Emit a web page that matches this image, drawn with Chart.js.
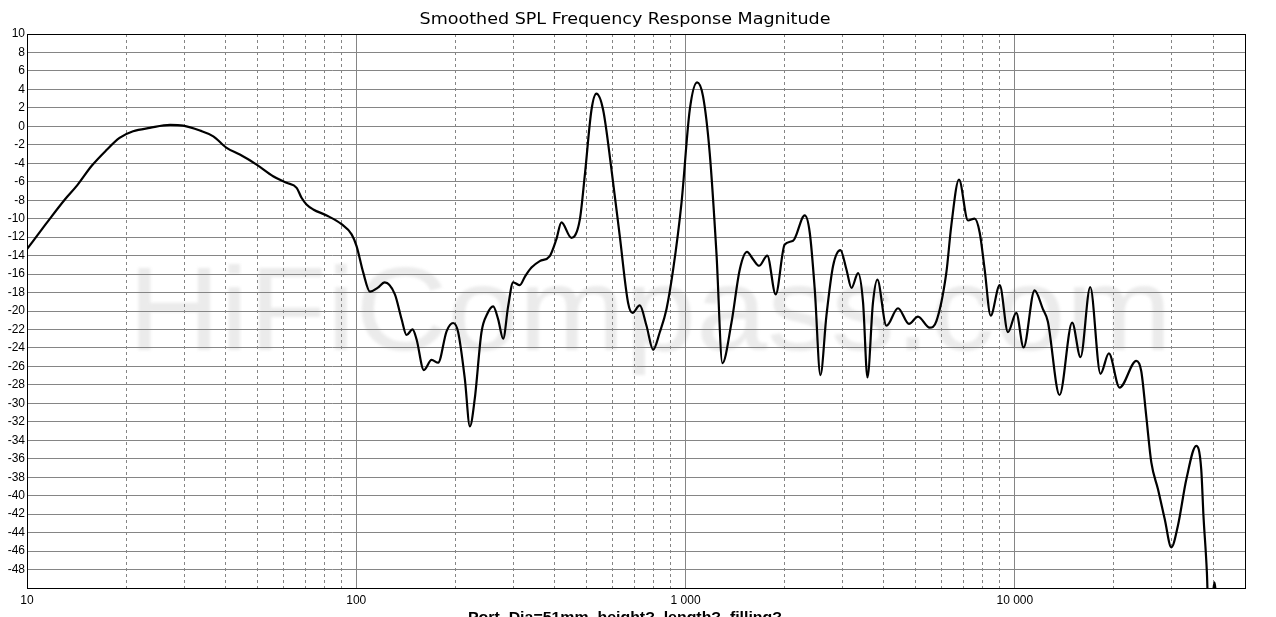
<!DOCTYPE html>
<html>
<head>
<meta charset="utf-8">
<title>Smoothed SPL Frequency Response Magnitude</title>
<script src="https://cdn.jsdelivr.net/npm/chart.js@4.4.1/dist/chart.umd.min.js"></script>
<style>
  html, body { margin: 0; padding: 0; background: #fff; overflow: hidden; }
  #wrap { width: 1276px; height: 617px; }
</style>
</head>
<body>
<div id="wrap"><canvas id="myChart" width="1276" height="617"></canvas></div>
<script>
// frequency (Hz) and level (dB)
var freqs = [
    10, 11.4, 13.05, 14.2, 15.7, 17.4, 19.1, 21.0, 23.6, 27.2,
    29.8, 33.5, 36.8, 40.4, 44.3, 49.8, 55.9, 61.4, 65.9, 68.2,
    70.6, 74, 81.3, 90.2, 96.8, 100.2, 105, 110, 116, 122,
    131, 137.3, 142.1, 148.2, 152.4, 160.4, 169.3, 177.3, 188, 196.9,
    203.9, 213.7, 221.3, 229, 240, 250, 260.4, 269.7, 279.3, 289.2,
    299.5, 313.8, 325, 340.4, 360.8, 387, 405, 419.8, 450, 477.4,
    494, 518, 536, 561.8, 595.7, 631.3, 669, 690, 726, 761,
    797, 835, 875, 917, 972, 1030, 1084, 1130, 1184, 1241,
    1294, 1378, 1461, 1537, 1603, 1672, 1771, 1878, 2000, 2121,
    2301, 2383, 2468, 2568, 2678, 2806, 2953, 3080, 3191, 3342,
    3460, 3568, 3708, 3823, 4074, 4418, 4770, 5080, 5512, 5778,
    6194, 6410, 6766, 7206, 7550, 7820, 8097, 8445, 8995, 9530,
    10100, 10630, 11480, 12170, 12590, 13670, 14930, 15830, 16940, 18200,
    19300, 20800, 23380, 24200, 25060, 25970, 27210, 28510, 29870, 31300,
    33190, 35560, 36810, 37400, 38300, 39000, 40400, 41500
]
var spl = [
    -13.3, -10.6, -7.9, -6.4, -4.3, -2.6, -1.25, -0.54, -0.17, 0.15,
    0.07, -0.46, -1.08, -2.34, -3.06, -4.14, -5.4, -6.12, -6.66, -7.74,
    -8.46, -9.0, -9.65, -10.6, -11.7, -12.97, -15.85, -17.9, -17.5, -16.9,
    -18.2, -20.9, -22.6, -22.0, -23.06, -26.4, -25.3, -25.6, -22.2, -21.3,
    -22.3, -27.4, -32.5, -29.5, -22.3, -20.3, -19.5, -20.9, -23.0, -19.5,
    -16.9, -17.2, -16.3, -15.3, -14.6, -14.05, -12.25, -10.4, -12.07, -10.1,
    -5.4, 1.8, 3.54, 1.8, -4.68, -11.9, -19.1, -20.2, -19.4, -21.6,
    -24.2, -22.3, -19.8, -15.5, -8.28, 1.8, 4.76, 3.24, -2.9, -13.7,
    -25.65, -21.3, -15.5, -13.6, -14.4, -15.1, -14.0, -18.2, -12.8, -12.4,
    -9.65, -11.5, -17.65, -26.95, -20.5, -15.1, -13.4, -15.5, -17.5, -15.9,
    -19.1, -27.2, -19.1, -16.6, -21.6, -19.7, -21.4, -20.6, -21.8, -21.1,
    -15.85, -10.8, -5.76, -10.2, -10.0, -11.5, -15.5, -20.5, -17.2, -22.3,
    -20.2, -23.95, -17.76, -19.8, -21.1, -29.1, -21.25, -25.0, -17.4, -26.8,
    -24.6, -28.3, -25.4, -26.5, -31.35, -36.4, -39.3, -42.5, -45.6, -43.2,
    -38.2, -34.6, -37.1, -42.2, -48.3, -56, -49.4, -56
]

var xTicks = [
    10, 20, 30, 40, 50, 60, 70, 80, 90,
    100, 200, 300, 400, 500, 600, 700, 800, 900,
    1000, 2000, 3000, 4000, 5000, 6000, 7000, 8000, 9000,
    10000, 20000, 30000, 40000
]
var xTickLabels = { 10: '10', 100: '100', 1000: '1 000', 10000: '10 000' }
var xMin = 10
var xMax = 50000
var yMin = -50
var yMax = 10
var yStep = 2

var chartTitle = 'Smoothed SPL Frequency Response Magnitude'
var caption = 'Port_Dia=51mm, height?, length?, filling?'
var watermark = 'HiFiCompass.com'

function isDecade(v) {
    return xTickLabels[v] !== undefined
}

// writes text stretched to a given width
function drawFitted(ctx, text, font, x, y, width, align) {
    ctx.font = font
    var w = ctx.measureText(text).width
    ctx.save()
    ctx.translate(x, y)
    ctx.scale(width / w, 1)
    ctx.textAlign = align
    ctx.fillText(text, 0, 0)
    ctx.restore()
}

var decor = {
    id: 'decor',
    beforeDraw: function(chart) {
        var ctx = chart.ctx
        ctx.save()
        ctx.fillStyle = '#fff'
        ctx.fillRect(0, 0, chart.width, chart.height)
        ctx.filter = 'blur(1.5px)'
        ctx.fillStyle = '#ebebeb'
        ctx.textBaseline = 'alphabetic'
        drawFitted(ctx, watermark, '119px "Liberation Sans"', 128, 350, 1044, 'left')
        ctx.restore()
    },
    afterDraw: function(chart) {
        var ctx = chart.ctx
        var a = chart.chartArea
        ctx.save()
        ctx.strokeStyle = '#000'
        ctx.lineWidth = 1
        ctx.strokeRect(Math.round(a.left) + 0.5, Math.round(a.top) + 0.5,
            Math.round(a.right - a.left), Math.round(a.bottom - a.top))
        ctx.fillStyle = '#000'
        ctx.textBaseline = 'middle'
        drawFitted(ctx, chartTitle, '16px "DejaVu Sans"', 625, 20, 411, 'center')
        ctx.textBaseline = 'alphabetic'
        drawFitted(ctx, caption, 'bold 14px "Liberation Sans"', 625, 622, 314, 'center')
        ctx.restore()
    }
}

var points = freqs.map(function(f, i) { return { x: f, y: spl[i] } })

var myChart = new Chart(document.getElementById('myChart').getContext('2d'), {
    type: 'line',
    data: {
        datasets: [{
            data: points,
            borderColor: '#000',
            borderWidth: 2.2,
            pointRadius: 0,
            fill: false,
            cubicInterpolationMode: 'monotone'
        }]
    },
    options: {
        responsive: false,
        devicePixelRatio: 1,
        animation: false,
        layout: { padding: { top: 34, right: 31, bottom: 0, left: 0 } },
        plugins: {
            legend: { display: false },
            title: { display: false },
            tooltip: { enabled: false }
        },
        scales: {
            x: {
                type: 'logarithmic',
                min: xMin,
                max: xMax,
                afterBuildTicks: function(scale) {
                    scale.ticks = xTicks.map(function(v) { return { value: v } })
                },
                afterFit: function(scale) { scale.height = 29 },
                ticks: {
                    autoSkip: false,
                    maxRotation: 0,
                    padding: 5,
                    color: '#000',
                    font: { family: 'Liberation Sans', size: 12 },
                    callback: function(v) { return xTickLabels[v] || '' }
                },
                grid: {
                    color: '#858585',
                    lineWidth: 1,
                    drawTicks: false
                },
                border: {
                    color: '#000',
                    dash: function(c) {
                        return (c.tick && !isDecade(c.tick.value)) ? [3, 3] : []
                    }
                }
            },
            y: {
                type: 'linear',
                min: yMin,
                max: yMax,
                afterFit: function(scale) { scale.width = 27 },
                ticks: {
                    stepSize: yStep,
                    autoSkip: false,
                    padding: 2,
                    color: '#000',
                    font: { family: 'Liberation Sans', size: 12 },
                    callback: function(v) { return v === yMin ? '' : v }
                },
                grid: {
                    color: '#858585',
                    lineWidth: 1,
                    drawTicks: false
                },
                border: { color: '#000' }
            }
        }
    },
    plugins: [decor]
})
</script>
</body>
</html>
